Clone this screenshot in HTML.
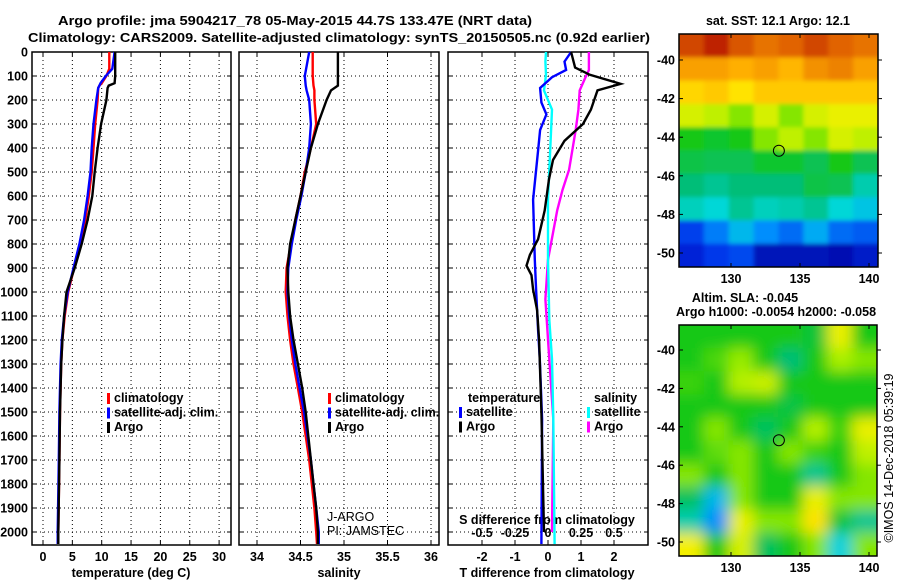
<!DOCTYPE html>
<html><head><meta charset="utf-8">
<style>
html,body{margin:0;padding:0;background:#fff;}
svg{display:block;font-family:"Liberation Sans",sans-serif;}
.b{font-weight:bold;font-size:12.5px;}
</style></head>
<body>
<svg id="fig" width="900" height="580" viewBox="0 0 900 580" xmlns="http://www.w3.org/2000/svg">
<defs>
<filter id="blur" x="0" y="0" width="100%" height="100%"><feGaussianBlur stdDeviation="7"/></filter>
<filter id="blur2" x="0" y="0" width="100%" height="100%"><feGaussianBlur stdDeviation="2"/></filter>
<clipPath id="clipSST"><rect x="679" y="34" width="199" height="233"/></clipPath>
<clipPath id="clipSLA"><rect x="679" y="325" width="198" height="231"/></clipPath>
</defs>
<text class="b" x="295" y="25" text-anchor="middle" font-size="13" textLength="474" lengthAdjust="spacingAndGlyphs">Argo profile: jma 5904217_78 05-May-2015 44.7S 133.47E (NRT data)</text>
<text class="b" x="339" y="42" text-anchor="middle" font-size="13" textLength="622" lengthAdjust="spacingAndGlyphs">Climatology: CARS2009. Satellite-adjusted climatology: synTS_20150505.nc (0.92d earlier)</text>
<g id="g"></g>
</svg>
<script>
// ---------- data ----------
const tempDepths = [0,70,100,130,140,150,200,300,400,500,600,700,800,900,1000,1100,1200,1300,1400,1500,1700,2000,2050];
const tempArgo   = [12.3,12.3,12.3,12.2,11.2,11.0,10.8,9.9,9.3,8.8,8.4,7.6,6.6,5.4,4.0,3.6,3.3,3.1,3.0,2.9,2.8,2.6,2.6];
const tempClim   = [11.3,11.3,10.8,10.0,9.6,9.4,9.3,8.9,8.6,8.3,7.8,7.2,6.3,5.3,4.3,3.7,3.3,3.1,3.0,2.9,2.8,2.6,2.55];
const tempSat    = [12.2,11.8,10.7,9.8,9.6,9.4,9.1,8.6,8.3,8.1,7.6,7.0,6.2,5.2,4.2,3.6,3.2,3.0,2.9,2.8,2.7,2.5,2.5];
const salDepths  = [0,100,140,160,200,300,400,500,600,700,800,900,1000,1100,1200,1300,1400,1500,1600,1700,1800,1900,2000,2050];
const salArgo    = [34.93,34.93,34.93,34.85,34.80,34.70,34.62,34.56,34.50,34.44,34.38,34.35,34.36,34.38,34.42,34.47,34.52,34.56,34.59,34.62,34.65,34.68,34.70,34.70];
const salClim    = [34.64,34.64,34.65,34.66,34.66,34.68,34.62,34.55,34.50,34.44,34.39,34.34,34.33,34.35,34.38,34.42,34.47,34.52,34.56,34.60,34.63,34.66,34.68,34.69];
const salSat     = [34.60,34.55,34.56,34.57,34.60,34.62,34.60,34.56,34.51,34.45,34.40,34.36,34.35,34.37,34.40,34.44,34.49,34.54,34.58,34.62,34.65,34.68,34.71,34.71];
const dTArgoDepths = [0,65,95,133,160,240,300,370,450,530,660,780,845,890,930,990,1075,1200,1500,2000];
const dTArgo       = [0.7,0.82,1.27,2.2,1.5,1.3,1.06,0.5,0.15,0.03,-0.1,-0.3,-0.55,-0.65,-0.5,-0.45,-0.33,-0.27,-0.2,-0.12];
const dTSatDepths  = [0,40,75,105,150,210,260,325,410,615,865,990,1160,1280,1530,2050];
const dTSat        = [0.7,0.5,0.55,0.12,-0.24,-0.2,-0.05,-0.24,-0.3,-0.45,-0.4,-0.36,-0.3,-0.25,-0.18,-0.2];
const dSSatDepths  = [0,40,95,160,240,615,865,1115,1280,1530,2050];
const dSSat        = [-0.015,-0.02,-0.015,-0.03,0.03,0.0,0.0,0.01,0.03,0.04,0.05];
const dSArgoDepths = [0,75,110,160,240,325,490,575,660,865,1030,1280,1530,2000];
const dSArgo       = [0.31,0.31,0.28,0.24,0.23,0.21,0.16,0.11,0.07,0.0,-0.02,0.01,0.04,0.03];
const tTicks = [0,5,10,15,20,25,30];
const sTicks = [34,34.5,35,35.5,36];
const sTickLabels = ["34","34.5","35","35.5","36"];
const dTTicks = [-2,-1,0,1,2];
const dSTicks = [-0.5,-0.25,0,0.25,0.5];
const dSTickLabels = ["-0.5","-0.25","0","0.25","0.5"];
const lonTicks = [130,135,140];
const latTicks = [-40,-42,-44,-46,-48,-50];
const floatLon = 133.47, floatLat = -44.7;
const sstRows = [
 [0.9,0.95,0.88,0.84,0.86,0.9,0.86,0.84],
 [0.78,0.78,0.76,0.78,0.75,0.8,0.82,0.78],
 [0.7,0.72,0.68,0.72,0.72,0.72,0.72,0.72],
 [0.62,0.6,0.56,0.62,0.56,0.62,0.64,0.64],
 [0.5,0.48,0.5,0.56,0.6,0.56,0.62,0.6],
 [0.46,0.45,0.45,0.48,0.48,0.45,0.5,0.45],
 [0.42,0.4,0.42,0.42,0.42,0.46,0.45,0.38],
 [0.37,0.35,0.4,0.37,0.38,0.4,0.35,0.32],
 [0.15,0.22,0.3,0.24,0.2,0.28,0.2,0.18],
 [0.1,0.14,0.16,0.06,0.06,0.06,0.05,0.08]];
const slaRows = [
 [0.5,0.5,0.5,0.5,0.5,0.47,0.64,0.5],
 [0.5,0.53,0.57,0.5,0.42,0.5,0.58,0.56],
 [0.52,0.5,0.59,0.61,0.5,0.5,0.5,0.5],
 [0.5,0.5,0.5,0.5,0.46,0.5,0.5,0.5],
 [0.5,0.56,0.5,0.44,0.5,0.59,0.52,0.64],
 [0.5,0.54,0.56,0.5,0.56,0.52,0.5,0.6],
 [0.56,0.5,0.56,0.5,0.5,0.4,0.5,0.56],
 [0.44,0.3,0.56,0.5,0.5,0.64,0.56,0.56],
 [0.38,0.24,0.64,0.56,0.56,0.68,0.47,0.4],
 [0.65,0.5,0.62,0.44,0.5,0.56,0.34,0.56]];
// colormap stops (appearance only)
const cmapPos = [0,0.12,0.25,0.35,0.42,0.5,0.58,0.66,0.76,0.86,1];
const cmapCol = [[0,0,140],[0,40,230],[0,150,255],[0,215,215],[0,190,120],[20,200,20],[170,240,0],[255,240,0],[255,175,0],[225,100,0],[170,0,0]];

// ---------- helpers ----------
const NS="http://www.w3.org/2000/svg";
const G=document.getElementById('g');
function el(t,a,p){const e=document.createElementNS(NS,t);for(const k in a)e.setAttribute(k,a[k]);(p||G).appendChild(e);return e;}
function txt(x,y,s,a,p){const e=el('text',Object.assign({x:x,y:y},a||{}),p);e.textContent=s;return e;}
const yD = d => 52 + d*0.24;
const panels = [{x0:32,x1:231,name:'temperature'},{x0:239,x1:439,name:'salinity'},{x0:448,x1:648,name:'difference'}];
const xT = v => 43 + v*5.87;
const xS = v => 257 + (v-34)*87;
const xdT = v => 548 + v*33;
const xdS = v => 548 + v*132;

function frame(p,xticks,xf){
  const g=el('g',{});
  
  
  for(let d=100;d<=2000;d+=100){
    const l=el('line',{x1:p.x0,x2:p.x1,y1:yD(d),y2:yD(d),stroke:'#000','stroke-width':1,'stroke-dasharray':'1,3'},g);
    
    
    el('line',{x1:p.x0,x2:p.x0+4,y1:yD(d),y2:yD(d),stroke:'#000'},g);
    el('line',{x1:p.x1-4,x2:p.x1,y1:yD(d),y2:yD(d),stroke:'#000'},g);
  }
  xticks.forEach(v=>{
    const x=xf(v);
    const l=el('line',{x1:x,x2:x,y1:52,y2:545,stroke:'#000','stroke-width':1,'stroke-dasharray':'1,3'},g);
    
    
    el('line',{x1:x,x2:x,y1:545,y2:541,stroke:'#000'},g);
    el('line',{x1:x,x2:x,y1:52,y2:56,stroke:'#000'},g);
  });
  const r=el('rect',{x:p.x0,y:52,width:p.x1-p.x0,height:493,fill:'none',stroke:'#000','stroke-width':1.5},g);
  
  
  return g;
}
function line(depths,vals,xf,color,name){
  const pts=depths.map((d,i)=>xf(vals[i]).toFixed(1)+','+yD(d).toFixed(1)).join(' ');
  const e=el('polyline',{points:pts,fill:'none',stroke:color,'stroke-width':2.4,'stroke-linejoin':'miter'});
  
  
  return e;
}
function legend(x,y,items){
  items.forEach((it,i)=>{
    const yy=y+i*14.5;
    const r=el('rect',{x:x,y:yy-9,width:3,height:11,fill:it[0]});
    
    
    const t=txt(x+7,yy,it[1],{class:'b','font-size':'13'});
    
    
  });
}

frame(panels[0],tTicks,xT);
frame(panels[1],sTicks,xS);
frame(panels[2],dTTicks,xdT);
for(let d=0;d<=2000;d+=100){
  const t=txt(28,yD(d)+4.5,String(d),{class:'b','text-anchor':'end'});
  
  
}
tTicks.forEach(v=>{const t=txt(xT(v),561,String(v),{class:'b','text-anchor':'middle','font-size':'13'});
  });
sTicks.forEach((v,i)=>{const t=txt(xS(v),561,sTickLabels[i],{class:'b','text-anchor':'middle','font-size':'13'});
  });
dTTicks.forEach(v=>{const t=txt(xdT(v),561,String(v),{class:'b','text-anchor':'middle','font-size':'13'});
  });
dSTicks.forEach((v,i)=>{const t=txt(xdS(v),537,dSTickLabels[i],{class:'b','text-anchor':'middle','font-size':'13'});
  });
let t;
t=txt(131,577,'temperature (deg C)',{class:'b','text-anchor':'middle','font-size':'13'});

t=txt(339,577,'salinity',{class:'b','text-anchor':'middle','font-size':'13'});

t=txt(547,577,'T difference from climatology',{class:'b','text-anchor':'middle','font-size':'13'});

t=txt(547,524,'S difference from climatology',{class:'b','text-anchor':'middle','font-size':'13'});


line(tempDepths,tempClim,xT,'#ff0000','temperature-climatology-line');
line(tempDepths,tempSat,xT,'#0000ff','temperature-satellite-line');
line(tempDepths,tempArgo,xT,'#000000','temperature-argo-line');
line(salDepths,salClim,xS,'#ff0000','salinity-climatology-line');
line(salDepths,salSat,xS,'#0000ff','salinity-satellite-line');
line(salDepths,salArgo,xS,'#000000','salinity-argo-line');
line(dSArgoDepths,dSArgo,xdS,'#ff00ff','s-diff-argo-line');
line(dSSatDepths,dSSat,xdS,'#00ffff','s-diff-satellite-line');
line(dTSatDepths,dTSat,xdT,'#0000ff','t-diff-satellite-line');
line(dTArgoDepths,dTArgo,xdT,'#000000','t-diff-argo-line');

legend(107,402,[['#ff0000','climatology'],['#0000ff','satellite-adj. clim.'],['#000000','Argo']]);
legend(328,402,[['#ff0000','climatology'],['#0000ff','satellite-adj. clim.'],['#000000','Argo']]);
t=txt(468,402,'temperature',{class:'b','font-size':'13'});

t=txt(594,402,'salinity',{class:'b','font-size':'13'});

legend(459,416,[['#0000ff','satellite'],['#000000','Argo']]);
legend(587,416,[['#00ffff','satellite'],['#ff00ff','Argo']]);
t=txt(327,521,'J-ARGO',{'font-size':'12.5'});

t=txt(327,535,'PI: JAMSTEC',{'font-size':'12.5'});


function cmap(v){
  v=Math.max(0,Math.min(1,v));
  for(let i=1;i<cmapPos.length;i++){
    if(v<=cmapPos[i]){
      const f=(v-cmapPos[i-1])/(cmapPos[i]-cmapPos[i-1]);
      const a=cmapCol[i-1],b=cmapCol[i];
      return 'rgb('+a.map((c,k)=>Math.round(c+(b[k]-c)*f)).join(',')+')';
    }
  }
  return 'rgb('+cmapCol[cmapCol.length-1].join(',')+')';
}
function map(m){
  const lonX = lon => m.x0 + (lon-130)*m.pxLon;
  const latY = lat => m.y40 + (-40-lat)*m.pxLat;
  const g=el('g',{'clip-path':'url(#'+m.clip+')'});
  
  
  const inner=el('g',{filter:'url(#'+m.blur+')'},g);
  const rows=m.rows.length, cols=m.rows[0].length;
  const cw=(m.x1-m.xl)/cols, ch=(m.yb-m.yt)/rows;
  const pad=16;
  m.rows.forEach((row,ri)=>row.forEach((v,ci)=>{
    const c=el('rect',{x:m.xl+ci*cw-(ci==0?pad:0),y:m.yt+ri*ch-(ri==0?pad:0),width:cw+1+(ci==0||ci==cols-1?pad:0),height:ch+1+(ri==0||ri==rows-1?pad:0),fill:cmap(v)},inner);
    
    
  }));
  const b=el('rect',{x:m.xl,y:m.yt,width:m.x1-m.xl,height:m.yb-m.yt,fill:'none',stroke:'#000','stroke-width':1.5});
  
  
  lonTicks.forEach(l=>{const x=lonX(l);
    el('line',{x1:x,x2:x,y1:m.yb,y2:m.yb-4,stroke:'#000'});el('line',{x1:x,x2:x,y1:m.yt,y2:m.yt+4,stroke:'#000'});
    const tt=txt(x,m.yb+16,String(l),{class:'b','text-anchor':'middle','font-size':'13'});
    });
  latTicks.forEach(l=>{const y=latY(l);
    el('line',{x1:m.xl,x2:m.xl+4,y1:y,y2:y,stroke:'#000'});el('line',{x1:m.x1,x2:m.x1+4,y1:y,y2:y,stroke:'#000'});
    const tt=txt(m.xl-4,y+4.5,String(l),{class:'b','text-anchor':'end','font-size':'12.5'});
    });
  const c=el('circle',{cx:lonX(floatLon),cy:latY(floatLat),r:5.5,fill:'none',stroke:'#000','stroke-width':1});
  
  
}
map({name:'sst',clip:'clipSST',rows:sstRows,xl:679,x1:878,yt:34,yb:267,x0:731,pxLon:13.8,y40:60,pxLat:19.3,blur:'blur2'});
map({name:'sla',clip:'clipSLA',rows:slaRows,xl:679,x1:877,yt:325,yb:556,x0:731,pxLon:13.8,y40:350,pxLat:19.2,blur:'blur'});
t=txt(778,25,'sat. SST: 12.1 Argo: 12.1',{class:'b','text-anchor':'middle','font-size':'13'});

t=txt(745,302,'Altim. SLA: -0.045',{class:'b','text-anchor':'middle','font-size':'13'});

t=txt(776,316,'Argo h1000: -0.0054 h2000: -0.058',{class:'b','text-anchor':'middle','font-size':'13'});

t=txt(0,0,'©IMOS 14-Dec-2018 05:39:19',{'font-size':'12.5','text-anchor':'middle',transform:'translate(893,458) rotate(-90)'});

</script>
</body></html>
